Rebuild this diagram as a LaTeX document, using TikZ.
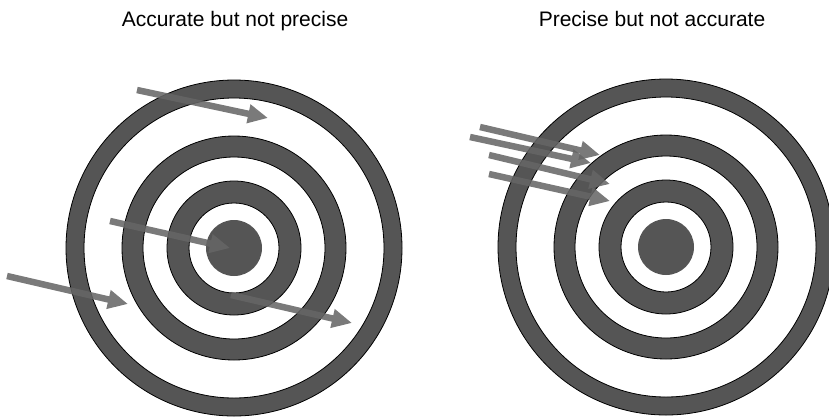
\documentclass[tikz,border=0pt]{standalone}
\usepackage{fontspec}
\setmainfont{Liberation Sans}
\usetikzlibrary{arrows.meta}
\definecolor{ringgray}{RGB}{85,85,85}
\definecolor{shotgray}{RGB}{102,102,102}

\begin{document}
\begin{tikzpicture}[x=1pt,y=-1pt,
    ring/.style={draw=black, line width=0.8pt, fill=ringgray, even odd rule},
    shot/.style={draw=shotgray, line width=6.5pt, -{Triangle[width=18pt,length=20pt]}},
    caption/.style={font=\fontsize{21}{25}\selectfont, anchor=base}]
        \useasboundingbox (0,0) rectangle (829,416);
        % two targets: centre x / y
        \foreach \cx/\cy/\nm in {234/248/left,666/247/right}{
          \coordinate (\nm) at (\cx,\cy);
          \foreach \ro/\ri in {168/150,112/91,67/45}{
            \draw[ring] (\nm) circle (\ro) (\nm) circle (\ri);}
          \fill[ringgray] (\nm) circle (28);
        }
        \node[caption] (accurate) at (235,26) {Accurate but not precise};
        \node[caption] (precise) at (652,26) {Precise but not accurate};
        % shots: start -> tip
        \foreach \sx/\sy/\ex/\ey in {137/90/268/118, 110/221/230/248, 7/276/128/304, 231/295/352/323,
                                     480/127/600/155, 470/137/591/163, 489/155/610/184, 489/174/610/201}{
          \begin{scope}[transparency group, opacity=0.87]
            \draw[shot] (\sx,\sy) -- (\ex,\ey);
          \end{scope}
        }
      \end{tikzpicture}
\end{document}
